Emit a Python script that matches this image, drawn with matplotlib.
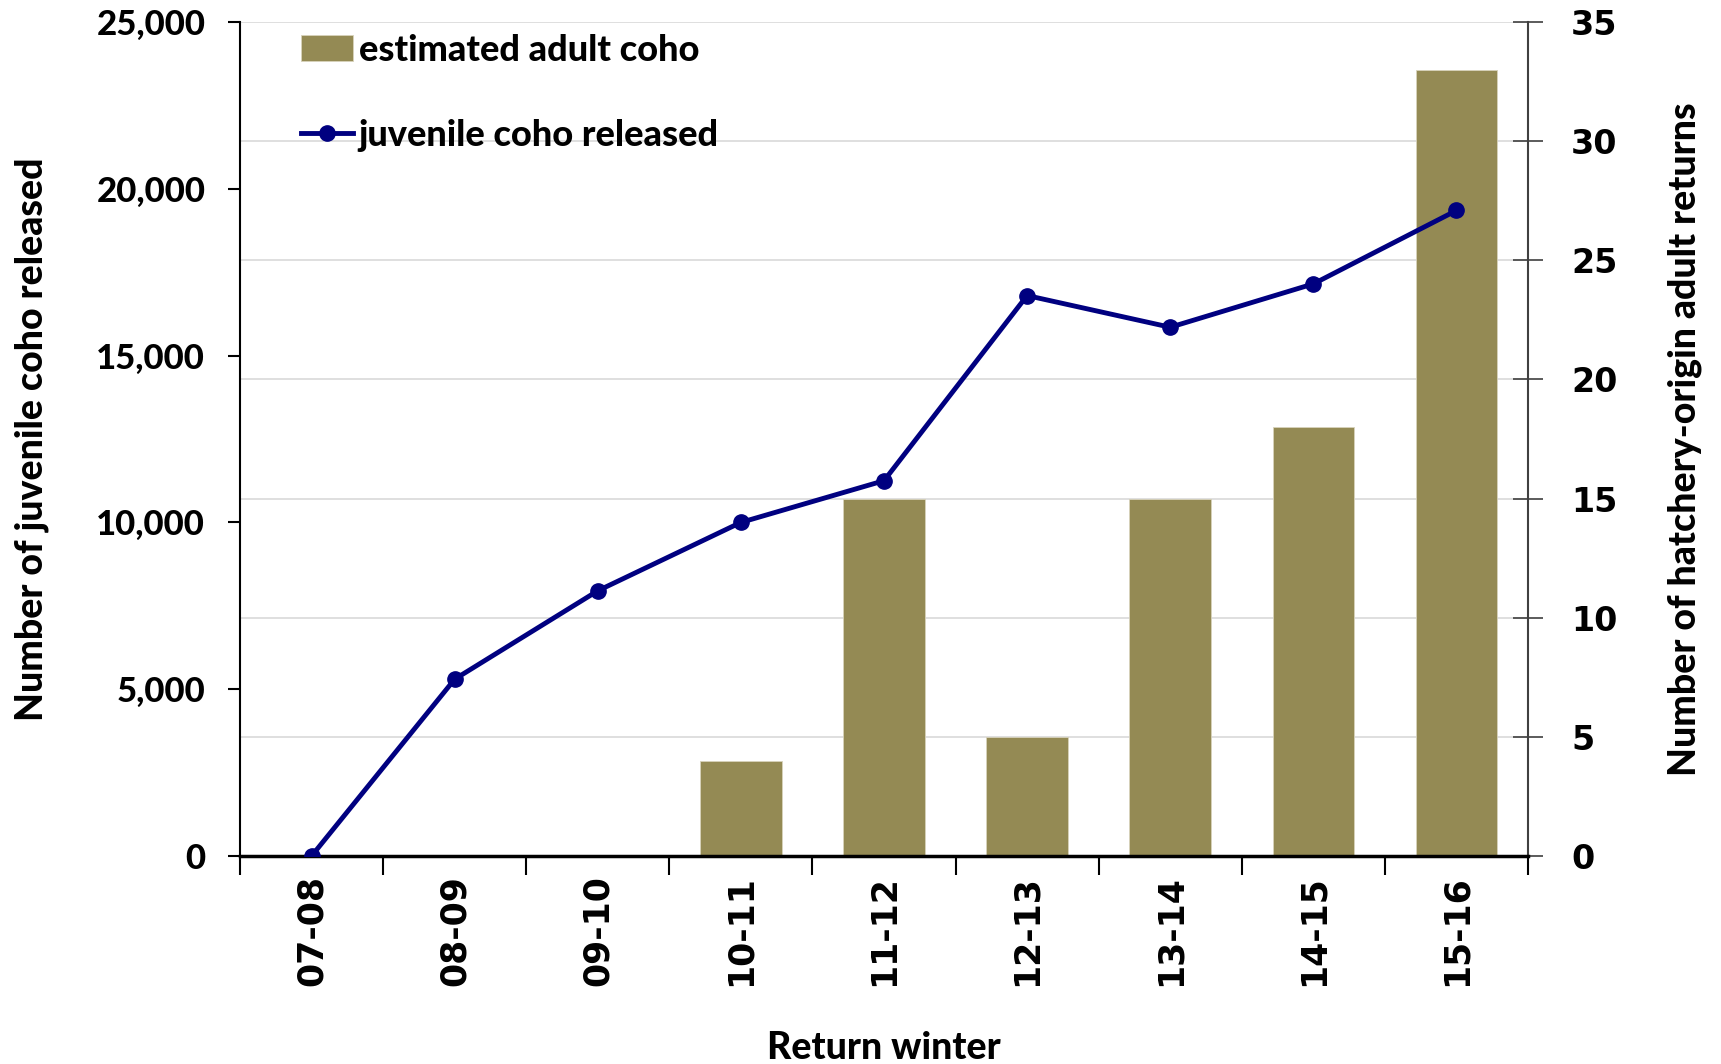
import matplotlib.pyplot as plt
import numpy as np

winters = ['07-08', '08-09', '09-10', '10-11', '11-12', '12-13', '13-14', '14-15', '15-16']
juveniles_released = [0, 5300, 7950, 10000, 11250, 16800, 15850, 17150, 19350]
adult_returns = [0, 0, 0, 4, 15, 5, 15, 18, 33]

FONT = ['Lato', 'DejaVu Sans']
WEIGHT = 900
plt.rcParams['font.family'] = FONT
plt.rcParams['font.weight'] = WEIGHT

fig = plt.figure(figsize=(17.21, 10.64), dpi=100)
ax = fig.add_axes([240 / 1721, 1 - 856 / 1064, (1528 - 240) / 1721, (856 - 22) / 1064])
ax2 = ax.twinx()

x = np.arange(len(winters))

# bars on the right axis, line on the left one (drawn on top)
ax2.bar(x, adult_returns, width=0.57, color='#948A54', edgecolor='#D8D3BC', linewidth=0.6,
        label='estimated adult coho', zorder=2)
ax2.set_ylim(0, 35)
ax2.set_yticks(range(0, 36, 5))
ax2.yaxis.grid(True, color='#D9D9D9', linewidth=1.2, zorder=0)
ax2.set_axisbelow(True)

ax.set_zorder(ax2.get_zorder() + 1)
ax.patch.set_visible(False)
ax.plot(x, juveniles_released, color='#000080', linewidth=3.5, marker='o', markersize=11,
        label='juvenile coho released', zorder=5)
ax.set_ylim(0, 25000)
ax.set_yticks(range(0, 25001, 5000))
ax.set_yticklabels([f'{v:,}' for v in range(0, 25001, 5000)])
ax.set_xlim(-0.5, len(winters) - 0.5)

# category ticks between the bars, labels centred under them
ax.set_xticks(np.arange(-0.5, len(winters)))
ax.set_xticklabels([])
ax.set_xticks(x, minor=True)
ax.set_xticklabels(winters, minor=True, rotation=90, fontsize=25, fontweight='bold',
                   family='DejaVu Sans')
ax.tick_params(axis='x', which='minor', length=0, pad=14)
ax.tick_params(axis='x', which='major', length=14, width=1.5, direction='out')

ax.tick_params(axis='y', labelsize=25, length=9, width=1.5, direction='out', pad=16)
ax2.tick_params(axis='y', labelsize=24, length=22, width=1.2, direction='inout', pad=20,
                color='#404040')
for lab in ax2.get_yticklabels():
    lab.set_family('DejaVu Sans')
    lab.set_fontweight('bold')

ax.spines['top'].set_visible(False)
ax2.spines['top'].set_visible(False)
ax.spines['right'].set_visible(False)
ax.spines['left'].set_linewidth(1.5)
ax.spines['bottom'].set_linewidth(2.5)
ax2.spines['left'].set_visible(False)
ax2.spines['bottom'].set_visible(False)
ax2.spines['right'].set_color('#404040')
ax2.spines['right'].set_linewidth(1.5)

ax.set_xlabel('Return winter', fontsize=27, fontweight=WEIGHT, labelpad=32)
ax.set_ylabel('Number of juvenile coho released', fontsize=27, fontweight=WEIGHT, labelpad=34)
ax2.set_ylabel('Number of hatchery-origin adult returns', fontsize=27, fontweight=WEIGHT,
               labelpad=36)

h2, l2 = ax2.get_legend_handles_labels()
h1, l1 = ax.get_legend_handles_labels()
ax.legend(h2 + h1, l2 + l1, loc='upper left', bbox_to_anchor=(0.022, 1.025), frameon=False,
          labelspacing=1.45, handlelength=1.45, handletextpad=0.15,
          prop={'weight': WEIGHT, 'size': 26})

fig.savefig('out.png', dpi=100)
